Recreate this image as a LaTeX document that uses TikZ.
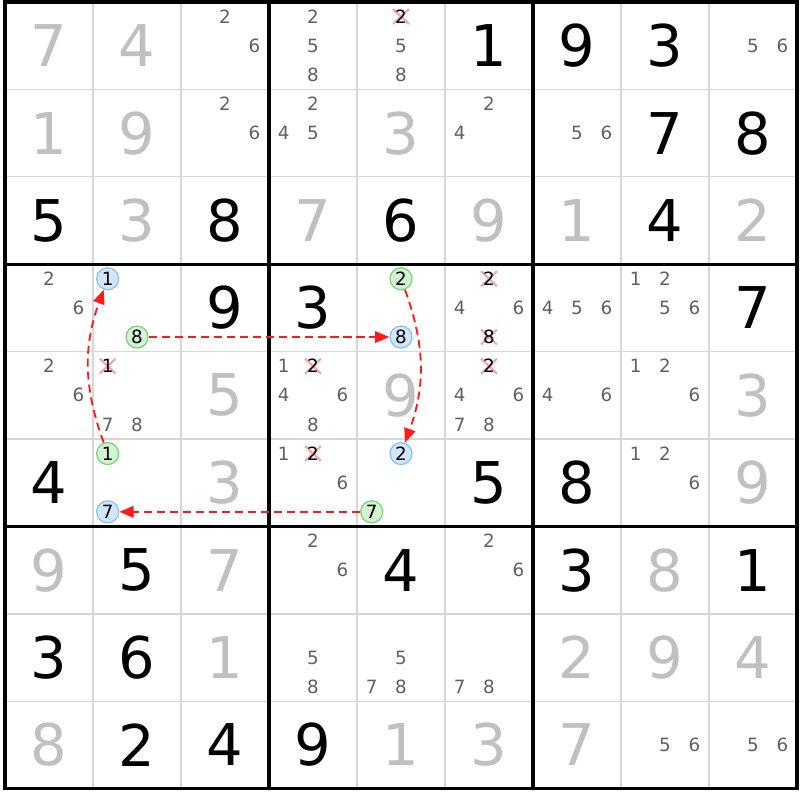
\documentclass[tikz,border=0pt]{standalone}
\usepackage{fontspec}
\setmainfont{DejaVu Sans}
\usetikzlibrary{arrows.meta}

\definecolor{solvedgray}{HTML}{C0C0C0}
\definecolor{candgray}{HTML}{606060}
\definecolor{linegray}{HTML}{D6D6D6}
\definecolor{bluefill}{HTML}{D2E7FF}
\definecolor{bluedraw}{HTML}{8AC0F2}
\definecolor{greenfill}{HTML}{D4F3D4}
\definecolor{greendraw}{HTML}{78D478}
\definecolor{crosspink}{HTML}{F5A3AC}
\definecolor{chainred}{HTML}{FF1A1A}

\newcommand{\bigdigit}{\fontsize{18.6}{18.6}\selectfont}
\newcommand{\smalldigit}{\fontsize{5.9}{5.9}\selectfont}

\tikzset{
  cellline/.style={draw=linegray, line width=0.45pt},
  boxline/.style={draw=black, line width=1pt, line cap=rect},
  given/.style={font=\bigdigit, text=black, inner sep=0pt},
  solved/.style={font=\bigdigit, text=solvedgray, inner sep=0pt},
  cand/.style={font=\smalldigit, text=candgray, inner sep=0pt},
  elimcand/.style={cand, text=black},
  elimcross/.style={draw=crosspink, line width=0.7pt},
  bluecand/.style={cand, text=black, circle, minimum size=0.25cm,
    draw=bluedraw, fill=bluefill, line width=0.4pt},
  greencand/.style={cand, text=black, circle, minimum size=0.25cm,
    draw=greendraw, fill=greenfill, line width=0.4pt},
  chain/.style={draw=chainred, line width=0.6pt, dash pattern=on 2.6pt off 1.6pt,
    -{Triangle[length=4.6pt,width=3.7pt]}}
}

\begin{document}
\begin{tikzpicture}[y=0.9932cm]
  \useasboundingbox (-0.057,-0.130) rectangle (9.034,9.023);
  % Draw thin cell lines
  \foreach \i in {1,2,4,5,7,8} {
    \draw[cellline] (\i,0) -- (\i,9);
    \draw[cellline] (0,\i) -- (9,\i);
  }
  % Draw box lines
  \foreach \i in {0,3,6,9} {
    \draw[boxline] (\i,0) -- (\i,9);
    \draw[boxline] (0,\i) -- (9,\i);
  }
  % Givens
  \foreach \c/\r/\d in {5/0/1,6/0/9,7/0/3,7/1/7,8/1/8,0/2/5,2/2/8,4/2/6,7/2/4,
      2/3/9,3/3/3,8/3/7,0/5/4,5/5/5,6/5/8,1/6/5,4/6/4,6/6/3,8/6/1,
      0/7/3,1/7/6,1/8/2,2/8/4,3/8/9}
    \node[given] (given-\c-\r) at (\c+0.5,8.5-\r) {\d};
  % Solved cells
  \foreach \c/\r/\d in {0/0/7,1/0/4,0/1/1,1/1/9,4/1/3,1/2/3,3/2/7,5/2/9,6/2/1,8/2/2,
      2/4/5,4/4/9,8/4/3,2/5/3,8/5/9,0/6/9,2/6/7,7/6/8,
      2/7/1,6/7/2,7/7/9,8/7/4,0/8/8,4/8/1,5/8/3,6/8/7}
    \node[solved] (solved-\c-\r) at (\c+0.5,8.5-\r) {\d};
  % Candidates
  \foreach \c/\r/\ds in {2/0/{2,6},3/0/{2,5,8},4/0/{5,8},8/0/{5,6},
      2/1/{2,6},3/1/{2,4,5},5/1/{2,4},6/1/{5,6},
      0/3/{2,6},5/3/{4,6},6/3/{4,5,6},7/3/{1,2,5,6},
      0/4/{2,6},1/4/{7,8},3/4/{1,4,6,8},5/4/{4,6,7,8},6/4/{4,6},7/4/{1,2,6},
      3/5/{1,6},7/5/{1,2,6},3/6/{2,6},5/6/{2,6},
      3/7/{5,8},4/7/{5,7,8},5/7/{7,8},7/8/{5,6},8/8/{5,6}} {
    \foreach \d in \ds {
      \pgfmathsetmacro{\px}{\c+0.5+(mod(\d-1,3)-1)/3}
      \pgfmathsetmacro{\py}{8.5-\r-(int((\d-1)/3)-1)/3}
      \node[cand] (cand-\c-\r-\d) at (\px,\py) {\d};
    }
  }
  % Eliminated candidates
  \foreach \c/\r/\d in {4/0/2,5/3/2,5/3/8,1/4/1,3/4/2,5/4/2,3/5/2} {
    \pgfmathsetmacro{\px}{\c+0.5+(mod(\d-1,3)-1)/3}
    \pgfmathsetmacro{\py}{8.5-\r-(int((\d-1)/3)-1)/3}
    \draw[elimcross] (\px-0.09,\py-0.085) -- (\px+0.09,\py+0.085)
      (\px-0.09,\py+0.085) -- (\px+0.09,\py-0.085);
    \node[elimcand] (elim-\c-\r-\d) at (\px,\py) {\d};
  }
  % Chain candidates
  \foreach \c/\r/\d/\name/\kind in {1/3/1/b1/bluecand,1/3/8/g8/greencand,
      4/3/2/g2/greencand,4/3/8/b8/bluecand,1/5/1/g1/greencand,1/5/7/b7/bluecand,
      4/5/2/b2/bluecand,4/5/7/g7/greencand} {
    \pgfmathsetmacro{\px}{\c+0.5+(mod(\d-1,3)-1)/3}
    \pgfmathsetmacro{\py}{8.5-\r-(int((\d-1)/3)-1)/3}
    \node[\kind] (\name) at (\px,\py) {\d};
  }
  % Chain links
  \draw[chain] (g8) -- (b8);
  \draw[chain] (g2) to[bend left=20] (b2);
  \draw[chain] (g7) -- (b7);
  \draw[chain] (g1) to[bend left=20] (b1);
\end{tikzpicture}
\end{document}
